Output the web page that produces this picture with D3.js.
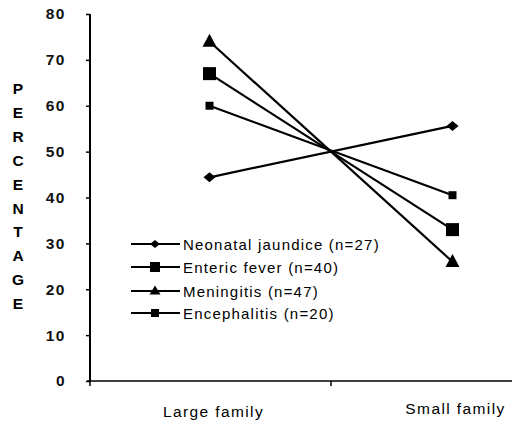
<!DOCTYPE html>
<html><head><meta charset="utf-8">
<script src="https://cdn.jsdelivr.net/npm/d3@7"></script>
<style>body{margin:0;background:#fff}svg{display:block}</style>
</head><body><svg id="c" width="512" height="427"></svg>
<script>
const categories = ["Large family", "Small family"];
const seriesNames = ["Neonatal jaundice (n=27)", "Enteric fever (n=40)", "Meningitis (n=47)", "Encephalitis (n=20)"];
const neonatal = [44.4, 55.6];
const enteric = [67, 33];
const meningitis = [74, 26];
const encephalitis = [60, 40.5];
const yTicks = [0, 10, 20, 30, 40, 50, 60, 70, 80];
const yTitle = "PERCENTAGE";

// custom marker shapes (w x h boxes)
const diamond = (w, h) => `M0,${-h/2}L${w/2},0L0,${h/2}L${-w/2},0Z`;
const square = (w, h) => `M${-w/2},${-h/2}h${w}v${h}h${-w}Z`;
const triangle = (w, h) => `M0,${-h*0.6}L${w/2},${h*0.4}L${-w/2},${h*0.4}Z`;

const series = [
  {name: seriesNames[0], values: neonatal, shape: diamond, w: 12, h: 10, lw: 10, lh: 8},
  {name: seriesNames[1], values: enteric, shape: square, w: 13, h: 13, lw: 10, lh: 10},
  {name: seriesNames[2], values: meningitis, shape: triangle, w: 14, h: 13, lw: 11, lh: 9},
  {name: seriesNames[3], values: encephalitis, shape: square, w: 8, h: 8, lw: 8, lh: 8}
];

const svg = d3.select("#c");
const y = d3.scaleLinear().domain([0, 80]).range([381, 14]);
const x = d3.scaleBand().domain(categories).range([88, 574]);
const font = "Arial, 'Liberation Sans', sans-serif";

// Y axis
const yAxis = svg.append("g").attr("transform", "translate(90,0)")
  .call(d3.axisLeft(y).tickValues(yTicks).tickSize(4).tickPadding(20));
yAxis.select(".domain").attr("stroke", "#000").attr("stroke-width", 2).attr("d", "M0,381V14");
yAxis.selectAll(".tick line").attr("stroke-width", 1.5);
yAxis.selectAll(".tick text").attr("font-family", font).attr("font-size", 15.5).attr("font-weight", "bold")
  .attr("letter-spacing", 1.5).attr("fill", "#111");

// X axis
svg.append("line").attr("x1", 87).attr("x2", 512).attr("y1", 381).attr("y2", 381).attr("stroke", "#000").attr("stroke-width", 1.5);
[90, x(categories[1])].forEach(t => {
  svg.append("line").attr("x1", t).attr("x2", t).attr("y1", 381).attr("y2", 386).attr("stroke", "#000").attr("stroke-width", 1.5);
});
const cx = c => x(c) + x.bandwidth()/2;
svg.append("text").attr("x", cx(categories[0]) + 4).attr("y", 417).attr("text-anchor", "middle")
  .attr("font-family", font).attr("font-size", 15.5).attr("letter-spacing", 1.4).text(categories[0]);
svg.append("text").attr("x", cx(categories[1]) + 3).attr("y", 414).attr("text-anchor", "middle")
  .attr("font-family", font).attr("font-size", 15.5).attr("letter-spacing", 1.4).text(categories[1]);

// Y title stacked letters
yTitle.split("").forEach((ch, i) => {
  svg.append("text").attr("x", 18).attr("y", 94 + i * 23.9).attr("text-anchor", "middle")
    .attr("font-family", font).attr("font-size", 15.5).attr("font-weight", "bold").text(ch);
});

// Lines and markers
const line = d3.line().x((d, i) => cx(categories[i])).y(d => y(d));
series.forEach(s => {
  svg.append("path").attr("d", line(s.values)).attr("fill", "none").attr("stroke", "#000").attr("stroke-width", 2.2);
  s.values.forEach((v, i) => {
    svg.append("path").attr("d", s.shape(s.w, s.h))
      .attr("transform", `translate(${cx(categories[i])},${y(v)})`).attr("fill", "#000");
  });
});

// Legend
const legY = [244, 267, 291, 313];
series.forEach((s, i) => {
  const g = svg.append("g").attr("transform", `translate(0,${legY[i]})`);
  g.append("line").attr("x1", 131).attr("x2", 180).attr("y1", 0).attr("y2", 0).attr("stroke", "#000").attr("stroke-width", 2);
  g.append("path").attr("d", s.shape(s.lw, s.lh)).attr("transform", "translate(155,0)").attr("fill", "#000");
  g.append("text").attr("x", 183).attr("y", 5.5).attr("font-family", font).attr("font-size", 15)
    .attr("letter-spacing", 1.2).text(s.name);
});
</script></body></html>
